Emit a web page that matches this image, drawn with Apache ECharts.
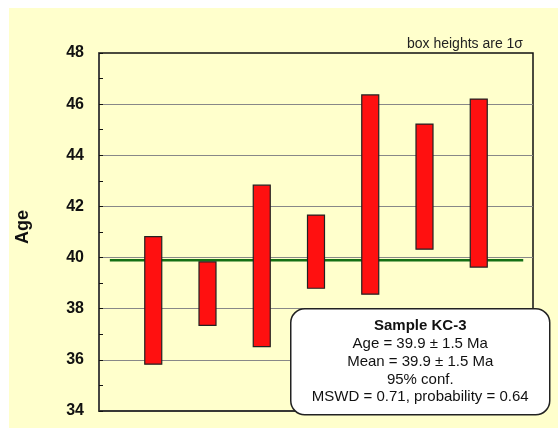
<!DOCTYPE html>
<html>
<head>
<meta charset="utf-8">
<script src="https://cdn.jsdelivr.net/npm/echarts@6/dist/echarts.min.js"></script>
<style>
  html, body { margin: 0; padding: 0; background: #fff; }
  #chart { width: 558px; height: 428px; }
</style>
</head>
<body>
<div id="chart"></div>
<script>
// weighted-mean plot: one 1-sigma box per analysis
const sampleIndex = [1, 2, 3, 4, 5, 6, 7];
const boxLow = [35.83, 37.35, 36.52, 38.80, 38.57, 40.33, 39.63];
const boxHigh = [40.82, 39.83, 42.83, 41.66, 46.36, 45.22, 46.20];
const meanAge = 39.9;
const meanLineX = [0.2, 7.82];
const yTicks = [34, 36, 38, 40, 42, 44, 46, 48];
const infoLines = [
    'Age = 39.9 ± 1.5 Ma',
    'Mean = 39.9 ± 1.5 Ma',
    '95% conf.',
    'MSWD = 0.71, probability = 0.64'
];

const boxData = sampleIndex.map((x, i) => [x, boxLow[i], boxHigh[i]]);

const chart = echarts.init(document.getElementById('chart'));

const option = {
    animation: false,
    backgroundColor: '#fff',
    textStyle: { fontFamily: 'Liberation Sans, Arial, sans-serif' },
    graphic: [
        {
            type: 'rect',
            z: -10,
            silent: true,
            shape: { x: 9, y: 8, width: 549, height: 420 },
            style: { fill: '#FFFFCC' }
        },
        {
            // y axis title
            type: 'text',
            x: 23,
            y: 227,
            rotation: Math.PI / 2,
            style: {
                text: 'Age',
                align: 'center',
                verticalAlign: 'middle',
                fontSize: 18,
                fontWeight: 'bold',
                fill: '#111',
                fontFamily: 'Liberation Sans, Arial, sans-serif'
            }
        },
        {
            type: 'text',
            right: 35,
            top: 37,
            style: {
                text: 'box heights are 1σ',
                fontSize: 14,
                fill: '#222',
                fontFamily: 'Liberation Sans, Arial, sans-serif'
            }
        },
        {
            type: 'group',
            left: 290,
            top: 308,
            z: 100,
            children: [
                {
                    type: 'rect',
                    z: 100,
                    shape: { x: 0, y: 0, width: 259, height: 106, r: 14 },
                    style: { fill: '#fff', stroke: '#222', lineWidth: 1.5 }
                },
                {
                    type: 'text',
                    z: 101,
                    x: 129.5,
                    y: 53,
                    style: {
                        text: '{b|Sample KC-3}\n' + infoLines.join('\n'),
                        align: 'center',
                        verticalAlign: 'middle',
                        fontSize: 15,
                        lineHeight: 17.8,
                        fill: '#111',
                        fontFamily: 'Liberation Sans, Arial, sans-serif',
                        rich: {
                            b: { fontWeight: 'bold', fontSize: 15, lineHeight: 17.8, fill: '#111' }
                        }
                    }
                }
            ]
        }
    ],
    grid: {
        left: 99,
        top: 53,
        right: 25,
        bottom: 17,
        outerBoundsMode: 'none',
        show: true,
        backgroundColor: 'transparent',
        borderColor: '#111',
        borderWidth: 1.5
    },
    xAxis: {
        type: 'value',
        min: 0,
        max: 8,
        axisLine: { show: true, lineStyle: { color: '#333', width: 1.5 } },
        axisTick: { show: false },
        axisLabel: { show: false },
        splitLine: { show: false }
    },
    yAxis: {
        type: 'value',
        min: yTicks[0],
        max: yTicks[yTicks.length - 1],
        interval: 2,
        axisLine: { show: true, lineStyle: { color: '#444', width: 1.5 } },
        axisTick: { show: true, inside: true, length: 4, lineStyle: { color: '#111' } },
        minorTick: { show: true, splitNumber: 2, length: 4, lineStyle: { color: '#111' } },
        axisLabel: {
            fontSize: 16,
            fontWeight: 'bold',
            color: '#111',
            margin: 15
        },
        splitLine: {
            show: true,
            showMinLine: false,
            showMaxLine: false,
            lineStyle: { color: '#888', width: 1.2 }
        }
    },
    series: [
        {
            type: 'line',
            data: [[meanLineX[0], meanAge], [meanLineX[1], meanAge]],
            symbol: 'none',
            z: 3,
            lineStyle: { color: '#157015', width: 2.5 }
        },
        {
            type: 'custom',
            z: 5,
            data: boxData,
            renderItem: function (params, api) {
                const x = api.value(0);
                const lo = api.coord([x, api.value(1)]);
                const hi = api.coord([x, api.value(2)]);
                const w = 17;
                return {
                    type: 'rect',
                    shape: { x: lo[0] - w / 2, y: hi[1], width: w, height: lo[1] - hi[1] },
                    style: { fill: '#FF1010', stroke: '#222', lineWidth: 1.2 }
                };
            }
        }
    ]
};

chart.setOption(option);
</script>
</body>
</html>
